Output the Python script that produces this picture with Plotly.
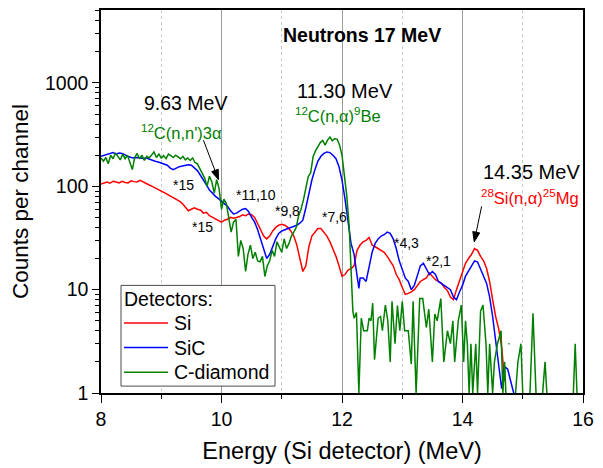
import math
import plotly.graph_objects as go

# ---------------- data ----------------
si_energy = [8.00, 8.05, 8.10, 8.15, 8.20, 8.25, 8.30, 8.35, 8.40, 8.45, 8.50, 8.55, 8.60, 8.65, 8.70,
             8.75, 8.80, 8.85, 8.90, 8.95, 9.00, 9.05, 9.10, 9.15, 9.20, 9.25, 9.30, 9.35, 9.40, 9.45,
             9.50, 9.55, 9.60, 9.65, 9.70, 9.75, 9.80, 9.85, 9.90, 9.95, 10.00, 10.05, 10.10, 10.15,
             10.20, 10.25, 10.30, 10.35, 10.40, 10.45, 10.50, 10.55, 10.60, 10.65, 10.70, 10.75, 10.80,
             10.85, 10.90, 10.95, 11.00, 11.05, 11.10, 11.15, 11.20, 11.25, 11.30, 11.35, 11.40, 11.45,
             11.50, 11.55, 11.60, 11.65, 11.70, 11.75, 11.80, 11.85, 11.90, 11.95, 12.00, 12.05, 12.10,
             12.15, 12.20, 12.25, 12.30, 12.35, 12.40, 12.45, 12.50, 12.55, 12.60, 12.65, 12.70, 12.75,
             12.80, 12.85, 12.90, 12.95, 13.00, 13.05, 13.10, 13.15, 13.20, 13.25, 13.30, 13.35, 13.40,
             13.45, 13.50, 13.55, 13.60, 13.65, 13.70, 13.75, 13.80, 13.85, 13.90, 13.95, 14.00, 14.05,
             14.10, 14.15, 14.20, 14.25, 14.30, 14.35, 14.40, 14.45, 14.50, 14.55, 14.60, 14.65, 14.70]
si_counts = [105, 108, 110, 107, 112, 110, 108, 112, 109, 108, 113, 111, 110, 114, 110,
             105, 103, 100, 96, 94, 90, 87, 84, 80, 78, 76, 72, 68, 63, 58,
             60, 62, 60, 59, 55, 56, 52, 50, 48, 46, 45, 47, 48, 50,
             49, 50, 51, 53, 52, 54, 53, 50, 43, 37, 33, 31, 33,
             37, 40, 42, 43, 42, 40, 37, 33, 27, 20, 15, 17, 26,
             33, 36, 39, 39, 36, 33, 29, 25, 21, 17, 13.5, 14, 15.5,
             16, 17, 24, 27, 29, 30, 32, 27, 26, 25, 24, 23, 21,
             19, 17, 14, 12.5, 10.5, 9, 9.2, 9.5, 10, 11, 12, 12.5, 13,
             14.5, 13.5, 12.5, 12, 11.5, 10.5, 9.8, 8.5, 8, 10, 12, 15, 18,
             20, 22, 25, 24, 21, 19, 16, 12, 8, 5.5, 4.2, 2.8, 1.3]

sic_energy = [8.00, 8.05, 8.10, 8.15, 8.20, 8.25, 8.30, 8.35, 8.40, 8.45, 8.50, 8.55, 8.60, 8.65, 8.70,
              8.75, 8.80, 8.85, 8.90, 8.95, 9.00, 9.05, 9.10, 9.15, 9.20, 9.25, 9.30, 9.35, 9.40, 9.45,
              9.50, 9.55, 9.60, 9.65, 9.70, 9.75, 9.80, 9.85, 9.90, 9.95, 10.00, 10.05, 10.10, 10.15,
              10.20, 10.25, 10.30, 10.35, 10.40, 10.45, 10.50, 10.55, 10.60, 10.65, 10.70, 10.75, 10.80,
              10.85, 10.90, 10.95, 11.00, 11.05, 11.10, 11.15, 11.20, 11.25, 11.30, 11.35, 11.40, 11.45,
              11.50, 11.55, 11.60, 11.65, 11.70, 11.75, 11.80, 11.85, 11.90, 11.95, 12.00, 12.05, 12.10,
              12.15, 12.20, 12.25, 12.28, 12.30, 12.35, 12.40, 12.45, 12.50, 12.55, 12.60, 12.65, 12.70,
              12.75, 12.80, 12.85, 12.90, 12.95, 13.00, 13.05, 13.10, 13.15, 13.20, 13.25, 13.30, 13.35,
              13.40, 13.45, 13.50, 13.55, 13.60, 13.65, 13.70, 13.75, 13.80, 13.85, 13.90, 13.95, 14.00,
              14.05, 14.10, 14.15, 14.20, 14.25, 14.30, 14.35, 14.40, 14.45, 14.50, 14.55, 14.60, 14.65,
              14.70, 14.75, 14.80, 14.85]
sic_counts = [195, 200, 205, 210, 212, 205, 210, 208, 200, 195, 190, 188, 190, 188, 186,
              188, 183, 180, 175, 172, 168, 163, 160, 150, 145, 150, 155, 157, 160, 162,
              160, 152, 142, 128, 116, 103, 92, 85, 80, 76, 72, 68, 64, 58,
              54, 55, 58, 60, 61, 57, 50, 45, 38, 31, 25, 20, 22,
              26, 31, 35, 37, 38, 39, 40, 41, 42, 44, 47, 62, 85,
              115, 145, 175, 195, 208, 215, 212, 200, 185, 155, 115, 75, 45,
              28, 22, 13, 10.3, 13, 13, 12, 17, 23, 28, 31, 33, 34,
              36, 35, 31, 25, 19, 16, 13, 12, 10, 11, 14, 17, 18,
              16, 14, 15, 14, 12, 11.5, 11, 10.5, 10, 8.5, 8, 9.5, 11,
              13.5, 15, 17, 19, 18.5, 16, 13.5, 11.5, 8.5, 5.5, 3.2, 2.1, 1.1,
              1.8, 1.7, 1.3, 1.0]

dia_energy = [8.00, 8.04, 8.08, 8.12, 8.16, 8.20, 8.24, 8.28, 8.32, 8.36, 8.40, 8.44, 8.48, 8.52, 8.56,
              8.60, 8.64, 8.68, 8.72, 8.76, 8.80, 8.84, 8.88, 8.92, 8.96, 9.00, 9.04, 9.08, 9.12, 9.16,
              9.20, 9.24, 9.28, 9.32, 9.36, 9.40, 9.44, 9.48, 9.52, 9.56, 9.60, 9.64, 9.68, 9.72, 9.76,
              9.80, 9.84, 9.88, 9.92, 9.96, 10.00, 10.04, 10.08, 10.12, 10.16, 10.20, 10.24, 10.28,
              10.32, 10.36, 10.40, 10.44, 10.48, 10.52, 10.56, 10.60, 10.64, 10.68, 10.72, 10.76, 10.80,
              10.84, 10.88, 10.92, 10.96, 11.00, 11.04, 11.08, 11.12, 11.16, 11.20, 11.24, 11.28, 11.32,
              11.36, 11.40, 11.44, 11.48, 11.52, 11.56, 11.60, 11.64, 11.68, 11.72, 11.76, 11.80, 11.84,
              11.88, 11.92, 11.96, 12.00, 12.04, 12.08, 12.12, 12.14, 12.18, 12.20, 12.24, 12.28, 12.32,
              12.36, 12.42, 12.45, 12.48, 12.51, 12.54, 12.60, 12.64, 12.67, 12.72, 12.76, 12.80, 12.83,
              12.88, 12.92, 12.96, 13.00, 13.04, 13.10, 13.15, 13.18, 13.23, 13.29, 13.34, 13.40, 13.44,
              13.50, 13.54, 13.58, 13.64, 13.69, 13.75, 13.80, 13.84, 13.87, 13.93, 13.98, 14.02, 14.05,
              14.08, 14.11, 14.14, 14.17, 14.22, 14.25, 14.28, 14.30, 14.34, 14.39, 14.42, 14.45, 14.50,
              14.53, 14.58, 14.64, 14.67, 14.70, 14.72, 14.74, 14.76, 14.78, 14.80, 14.83, 14.84, 14.88,
              14.92, 14.97, 15.00, 15.06, 15.12, 15.17, 15.22, 15.28, 15.33, 15.37, 15.40, 15.60, 15.84,
              15.87, 15.90]
dia_counts = [188, 175, 190, 165, 200, 185, 210, 195, 180, 205, 185, 200, 170, 145, 190,
              208, 185, 200, 178, 195, 188, 200, 215, 190, 205, 188, 198, 185, 205, 198,
              190, 200, 192, 185, 195, 180, 188, 178, 188, 170, 165, 150, 134, 120, 100,
              125, 110, 86, 116, 95, 60, 75, 68, 48, 36, 45, 48, 21,
              30, 25, 15, 22, 27, 20, 23, 19, 18.6, 21, 13.4, 17, 19,
              24, 21, 29, 26, 23, 31, 25, 28, 33, 36, 40, 52, 60,
              74, 100, 124, 135, 193, 220, 240, 265, 278, 250, 280, 300, 275,
              290, 285, 250, 200, 130, 80, 40, 19, 6.2, 5.3, 6, 1, 5.3,
              4, 4, 5.3, 5, 7.4, 2.1, 5.3, 5.5, 4, 7.1, 5, 2, 7.7,
              3, 7, 4, 7.7, 4, 4, 1.9, 7.7, 1, 8.2, 8.2, 4.3, 6.5,
              2, 5.8, 5, 8.2, 2, 4, 3, 5, 2, 5, 7.1, 2, 5,
              3, 1, 3, 1, 3, 1, 3, 6.2, 7.1, 3, 1, 3, 1,
              2, 3, 4, 1, 2, 1, None, 3, 3, None, 3, None, 1,
              2, 3, 1, None, 1, 5.9, 1, None, 1, 2, 1, None, 1,
              3, 1]

series_names = ["Si", "SiC", "C-diamond"]
y_tick_values = [1, 10, 100, 1000]
y_tick_labels = ["1", "10", "100", "1000"]
x_tick_values = [8, 10, 12, 14, 16]
x_tick_labels = ["8", "10", "12", "14", "16"]

FONT = "Arial, Liberation Sans, sans-serif"
RED = "#ff0000"
BLUE = "#0000ff"
GREEN = "#008000"
COLORS = [RED, BLUE, GREEN]

X_RANGE = [8, 16]
Y_RANGE = [0, 3.706]
PLOT_W, PLOT_H = 482, 388

fig = go.Figure()
for name, xs, ys, col in zip(series_names, [si_energy, sic_energy, dia_energy],
                             [si_counts, sic_counts, dia_counts], COLORS):
    fig.add_trace(go.Scatter(x=xs, y=ys, mode="lines", name=name, showlegend=False,
                             line=dict(color=col, width=1.5), connectgaps=False))

minor_y = [m * 10 ** d for d in range(0, 4) for m in range(2, 10)]

fig.update_xaxes(range=X_RANGE, tickmode="array", tickvals=x_tick_values, ticktext=x_tick_labels,
                 ticks="outside", ticklen=8, tickwidth=1.3, tickcolor="black",
                 showline=True, linecolor="black", linewidth=1.5, mirror=True,
                 showgrid=True, gridcolor="#9a9a9a", gridwidth=1,
                 minor=dict(tickmode="array", tickvals=[9, 11, 13, 15], ticks="outside", ticklen=4,
                            tickcolor="black", showgrid=True, gridcolor="#c8c8c8", griddash="dot",
                            gridwidth=1),
                 zeroline=False,
                 tickfont=dict(family=FONT, size=19.5, color="black"),
                 title=dict(text="Energy (Si detector) (MeV)", standoff=13,
                            font=dict(family=FONT, size=23.5, color="black")))
fig.update_yaxes(type="log", range=Y_RANGE, tickmode="array", tickvals=y_tick_values,
                 ticktext=y_tick_labels,
                 ticks="outside", ticklen=7, tickwidth=1.3, tickcolor="black",
                 showline=True, linecolor="black", linewidth=1.5, mirror=True,
                 showgrid=False, zeroline=False,
                 minor=dict(tickmode="array", tickvals=minor_y, ticks="outside", ticklen=4,
                            tickcolor="black", showgrid=False),
                 tickfont=dict(family=FONT, size=19.5, color="black"),
                 title=dict(text="Counts per channel", standoff=10,
                            font=dict(family=FONT, size=22.5, color="black")))


def lg(v):
    return math.log10(v)


def to_paper(e, c):
    return ((e - X_RANGE[0]) / (X_RANGE[1] - X_RANGE[0]),
            (lg(c) - Y_RANGE[0]) / (Y_RANGE[1] - Y_RANGE[0]))


annots = [
    dict(x=12.33, y=lg(2930), text="<b>Neutrons 17 MeV</b>", font=dict(size=19.5, color="black")),
    dict(x=9.40, y=lg(640), text="9.63 MeV", font=dict(size=19.5, color="black")),
    dict(x=9.33, y=lg(333), text="<sup>12</sup>C(n,n')3α", font=dict(size=16.5, color=GREEN)),
    dict(x=12.05, y=lg(838), text="11.30 MeV", font=dict(size=20, color="black")),
    dict(x=11.93, y=lg(493), text="<sup>12</sup>C(n,α)<sup>9</sup>Be", font=dict(size=16.5, color=GREEN)),
    dict(x=15.15, y=lg(138), text="14.35 MeV", font=dict(size=20, color="black")),
    dict(x=15.12, y=lg(78), text="<sup>28</sup>Si(n,α)<sup>25</sup>Mg", font=dict(size=16.5, color=RED)),
    dict(x=9.37, y=lg(103), text="*15", font=dict(size=14, color="black")),
    dict(x=9.68, y=lg(40), text="*15", font=dict(size=14, color="black")),
    dict(x=10.57, y=lg(83), text="*11,10", font=dict(size=14, color="black")),
    dict(x=11.10, y=lg(58), text="*9,8", font=dict(size=14, color="black")),
    dict(x=11.87, y=lg(51), text="*7,6", font=dict(size=14, color="black")),
    dict(x=13.07, y=lg(28), text="*4,3", font=dict(size=14, color="black")),
    dict(x=13.60, y=lg(19), text="*2,1", font=dict(size=14, color="black")),
]
for a in annots:
    a["font"]["family"] = FONT
    fig.add_annotation(xref="x", yref="y", showarrow=False, xanchor="center", yanchor="middle", **a)


# arrows drawn as shapes (line + filled head), in paper coordinates
def add_arrow(tip, tail, head_len=10, half_w=3.5):
    tx, ty = to_paper(*tip)
    sx, sy = to_paper(*tail)
    tpx, tpy = tx * PLOT_W, ty * PLOT_H
    spx, spy = sx * PLOT_W, sy * PLOT_H
    dx, dy = tpx - spx, tpy - spy
    L = math.hypot(dx, dy)
    ux, uy = dx / L, dy / L
    bx, by = tpx - ux * head_len, tpy - uy * head_len
    px, py = -uy * half_w, ux * half_w
    fig.add_shape(type="line", xref="paper", yref="paper", x0=sx, y0=sy,
                  x1=bx / PLOT_W, y1=by / PLOT_H, line=dict(color="black", width=1))
    path = "M{},{} L{},{} L{},{} Z".format(tx, ty, (bx + px) / PLOT_W, (by + py) / PLOT_H,
                                          (bx - px) / PLOT_W, (by - py) / PLOT_H)
    fig.add_shape(type="path", xref="paper", yref="paper", path=path,
                  fillcolor="black", line=dict(color="black", width=1))


add_arrow((9.95, 116), (9.70, 279))
add_arrow((14.195, 29), (14.317, 64))

# legend box (drawn by hand to match the reference's spacing)
LEG_X0, LEG_X1, LEG_Y0, LEG_Y1 = 0.0415, 0.361, 0.018, 0.281
fig.add_shape(type="rect", xref="paper", yref="paper", x0=LEG_X0, x1=LEG_X1, y0=LEG_Y0, y1=LEG_Y1,
              fillcolor="white", line=dict(color="#4a4a4a", width=1), layer="above")
fig.add_annotation(xref="paper", yref="paper", x=0.044, y=0.245, xanchor="left", yanchor="middle",
                   text="Detectors:", showarrow=False, font=dict(family=FONT, size=19.5, color="black"))
legend_rows_y = [0.183, 0.1186, 0.0541]
for name, col, yy in zip(series_names, COLORS, legend_rows_y):
    fig.add_shape(type="line", xref="paper", yref="paper", x0=0.0477, x1=0.139, y0=yy, y1=yy,
                  line=dict(color=col, width=1.5), layer="above")
    fig.add_annotation(xref="paper", yref="paper", x=0.148, y=yy, xanchor="left", yanchor="middle",
                       text=name, showarrow=False, font=dict(family=FONT, size=19.5, color="black"))

fig.update_layout(
    width=603, height=468,
    margin=dict(l=101, r=20, t=8, b=72),
    paper_bgcolor="white", plot_bgcolor="white",
    font=dict(family=FONT, color="black"),
    showlegend=False,
)

fig.write_html("out.html")
